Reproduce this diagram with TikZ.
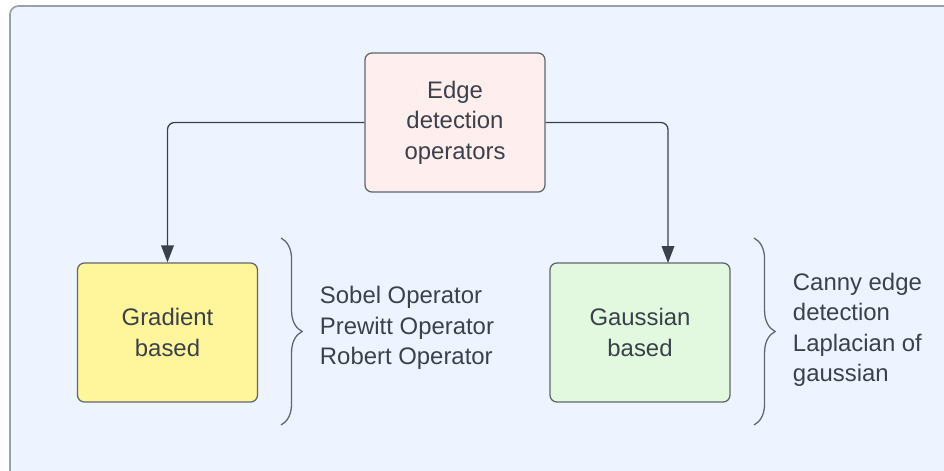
\documentclass[tikz,border=0pt]{standalone}
\usepackage{fontspec}
\setmainfont{Liberation Sans}
\usetikzlibrary{arrows.meta,decorations.pathreplacing}

\definecolor{bgblue}{HTML}{EDF4FF}
\definecolor{framegray}{HTML}{9AA0A8}
\definecolor{linegray}{HTML}{5F6670}
\definecolor{inkgray}{HTML}{3A414A}
\definecolor{pinkfill}{HTML}{FFEEEE}
\definecolor{yellowfill}{HTML}{FFF59A}
\definecolor{greenfill}{HTML}{E2F8DF}

\tikzset{
    opbox/.style={draw=linegray, line width=0.9pt, rounded corners=5pt,
        minimum width=4.5cm, minimum height=3.475cm, align=center,
        text=inkgray, font=\fontsize{17}{21.6}\selectfont},
    oplist/.style={anchor=west, align=left, text=inkgray,
        font=\fontsize{17}{21.6}\selectfont},
    link/.style={draw=inkgray, line width=0.9pt, rounded corners=5pt,
        -{Triangle[length=12pt, width=9pt]}},
    curly/.style={draw=linegray, line width=0.9pt, decorate,
        decoration={brace, amplitude=15pt}}
}

\begin{document}
\begin{tikzpicture}[x=0.025cm, y=-0.025cm]
    \useasboundingbox (0,0) rectangle (944,471);
    \clip (0,0) rectangle (944,471);

    % Frame
    \draw[framegray, fill=bgblue, line width=1.2pt, rounded corners=6pt]
        (10,6) rectangle (990,520);

    % Nodes
    \node[opbox, fill=pinkfill] (top) at (455,122.5) {Edge\\detection\\operators};
    \node[opbox, fill=yellowfill] (grad) at (167.5,332.5) {Gradient\\based};
    \node[opbox, fill=greenfill] (gauss) at (640,332.5) {Gaussian\\based};

    \node[oplist] (gradlist) at (315,328) {Sobel Operator\\Prewitt Operator\\Robert Operator};
    \node[oplist] (gausslist) at (788,330) {Canny edge\\detection\\Laplacian of\\gaussian};

    % Brace ends
    \coordinate (gradbtop) at (281,238);
    \coordinate (gradbbot) at (281,425);
    \coordinate (gaussbtop) at (754,238);
    \coordinate (gaussbbot) at (754,425);
    \coordinate (gaussin) at (668,263);

    % Edges
    \draw[link] (top.west) -| (grad.north);
    \draw[link] (top.east) -| (gaussin);
    \draw[curly] (gradbtop) -- (gradbbot);
    \draw[curly] (gaussbtop) -- (gaussbbot);
\end{tikzpicture}
\end{document}
